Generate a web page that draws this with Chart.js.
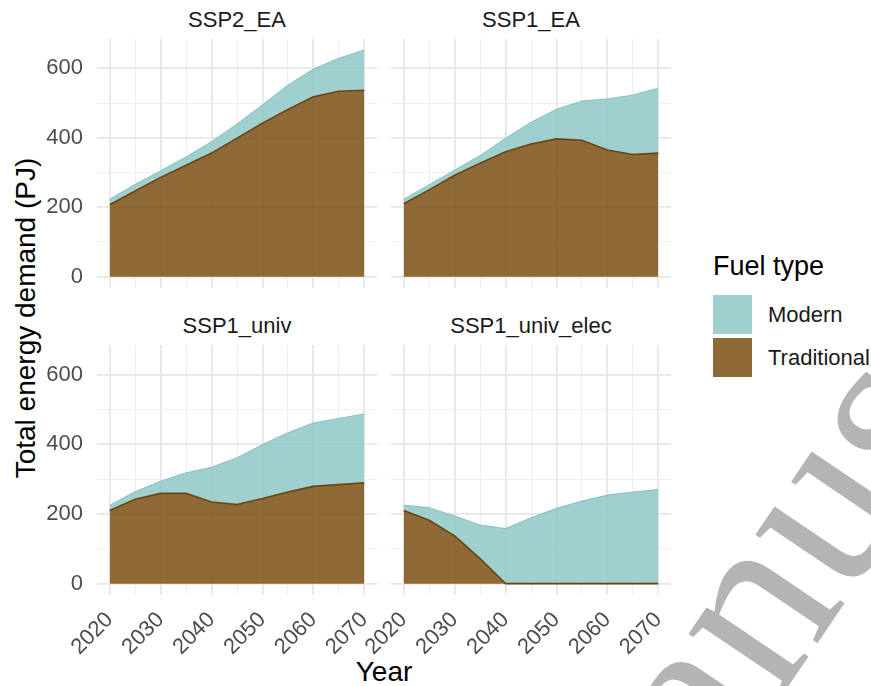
<!DOCTYPE html>
<html lang="en">
<head>
    <meta charset="UTF-8">
    <title>Total energy demand by fuel type</title>
    <script src="https://cdn.jsdelivr.net/npm/chart.js"></script>
    <style>
        body, html {
            margin: 0;
            padding: 0;
            width: 871px;
            height: 686px;
            overflow: hidden;
            background: #fff;
            font-family: "Liberation Sans", Arial, sans-serif;
        }
        .panel { position: absolute; }
        .txt { position: absolute; white-space: nowrap; line-height: 1; }
        .strip { font-size: 22px; color: #1a1a1a; transform: translateX(-50%); }
        .swatch { position: absolute; width: 39px; height: 39px; }
        #wm { position: absolute; left: 0; top: 0; pointer-events: none; }
    </style>
</head>
<body>
    <div class="txt strip" style="left:237px; top:9px;">SSP2_EA</div>
    <div class="txt strip" style="left:531px; top:9px;">SSP1_EA</div>
    <div class="txt strip" style="left:237px; top:315px;">SSP1_univ</div>
    <div class="txt strip" style="left:531px; top:315px;">SSP1_univ_elec</div>

    <div class="txt" style="left:26px; top:318px; font-size:28px; color:#000; transform:translate(-50%,-50%) rotate(-90deg);">Total energy demand (PJ)</div>
    <div class="txt" style="left:384px; top:658px; font-size:28px; color:#000; transform:translateX(-50%);">Year</div>

    <div class="txt" style="left:713px; top:253px; font-size:27px; color:#000;">Fuel type</div>
    <div class="swatch" style="left:713px; top:295px; background:rgb(159,207,207);"></div>
    <div class="swatch" style="left:713px; top:338px; background:rgb(144,106,54);"></div>
    <div class="txt" style="left:768px; top:304px; font-size:22px; color:#1a1a1a;">Modern</div>
    <div class="txt" style="left:768px; top:347px; font-size:22px; color:#1a1a1a;">Traditional</div>

    <canvas id="wm" width="871" height="686"></canvas>

    <script>
        const years = [2020, 2025, 2030, 2035, 2040, 2045, 2050, 2055, 2060, 2065, 2070];
        const xTicks = [2020, 2030, 2040, 2050, 2060, 2070];
        const yTicks = [0, 200, 400, 600];
        const yMinor = [100, 300, 500];

        // PJ
        const traditional_SSP2_EA = [207, 247, 286, 321, 356, 399, 442, 482, 518, 534, 537];
        const modern_SSP2_EA      = [16, 19, 19, 24, 33, 41, 53, 70, 80, 95, 116];

        const traditional_SSP1_EA = [210, 250, 292, 327, 360, 382, 397, 393, 365, 352, 356];
        const modern_SSP1_EA      = [13, 15, 15, 22, 39, 63, 85, 113, 147, 171, 187];

        const traditional_SSP1_univ = [210, 242, 259, 259, 234, 227, 244, 263, 279, 284, 289];
        const modern_SSP1_univ      = [15, 22, 35, 59, 100, 134, 155, 170, 182, 190, 198];

        const traditional_SSP1_univ_elec = [210, 182, 137, 72, 0, 0, 0, 0, 0, 0, 0];
        const modern_SSP1_univ_elec      = [15, 36, 57, 96, 158, 189, 216, 237, 254, 263, 270];

        Chart.defaults.font.family = '"Liberation Sans", Arial, sans-serif';

        const panels = [
            { trad: traditional_SSP2_EA, modern: modern_SSP2_EA, left: 97, top: 39, right: 377, bottom: 288, showY: true, showX: false },
            { trad: traditional_SSP1_EA, modern: modern_SSP1_EA, left: 391, top: 39, right: 671, bottom: 288, showY: false, showX: false },
            { trad: traditional_SSP1_univ, modern: modern_SSP1_univ, left: 97, top: 345, right: 377, bottom: 595, showY: true, showX: true },
            { trad: traditional_SSP1_univ_elec, modern: modern_SSP1_univ_elec, left: 391, top: 345, right: 671, bottom: 595, showY: false, showX: true }
        ];

        const padTop = 30, padRight = 30;

        function isMajor(ctx, list) {
            return ctx.tick && list.includes(ctx.tick.value);
        }

        panels.forEach(p => {
            const yw = p.showY ? 60 : 45;
            const xh = p.showX ? 75 : 30;
            const wrap = document.createElement('div');
            wrap.className = 'panel';
            wrap.style.left = (p.left - yw) + 'px';
            wrap.style.top = (p.top - padTop) + 'px';
            wrap.style.width = (p.right - p.left + yw + padRight) + 'px';
            wrap.style.height = (p.bottom - p.top + padTop + xh) + 'px';
            const cv = document.createElement('canvas');
            wrap.appendChild(cv);
            document.body.insertBefore(wrap, document.getElementById('wm'));

            new Chart(cv.getContext('2d'), {
                type: 'line',
                data: {
                    datasets: [{
                        label: 'Traditional',
                        data: years.map((y, k) => ({ x: y, y: p.trad[k] })),
                        backgroundColor: 'rgba(125, 80, 19, 0.85)',
                        borderColor: '#6a4412',
                        borderWidth: 1.6,
                        fill: 'origin',
                        pointRadius: 0,
                        tension: 0
                    }, {
                        label: 'Modern',
                        data: years.map((y, k) => ({ x: y, y: p.modern[k] })),
                        backgroundColor: 'rgba(142, 199, 199, 0.85)',
                        borderColor: 'rgba(128, 190, 190, 0.9)',
                        borderWidth: 1,
                        fill: '-1',
                        pointRadius: 0,
                        tension: 0
                    }]
                },
                options: {
                    responsive: true,
                    maintainAspectRatio: false,
                    animation: false,
                    layout: { padding: { top: padTop, right: padRight, left: 0, bottom: 0 } },
                    plugins: { legend: { display: false }, tooltip: { enabled: false } },
                    scales: {
                        x: {
                            type: 'linear',
                            min: 2017.5,
                            max: 2072.5,
                            border: { display: false },
                            grid: {
                                drawTicks: false,
                                color: c => (isMajor(c, xTicks) ? '#e6e6e6' : '#efefef'),
                                lineWidth: c => (isMajor(c, xTicks) ? 1.8 : 1)
                            },
                            afterBuildTicks: s => { s.ticks = years.map(v => ({ value: v })); },
                            ticks: {
                                display: p.showX,
                                autoSkip: false,
                                minRotation: 45,
                                maxRotation: 45,
                                padding: 12,
                                color: '#4d4d4d',
                                font: { size: 22 },
                                callback: v => (xTicks.includes(v) ? String(v) : '')
                            },
                            afterFit: s => { s.height = xh; }
                        },
                        y: {
                            stacked: true,
                            min: -32.6,
                            max: 684.6,
                            border: { display: false },
                            grid: {
                                drawTicks: false,
                                color: c => (isMajor(c, yTicks) ? '#e6e6e6' : '#efefef'),
                                lineWidth: c => (isMajor(c, yTicks) ? 1.8 : 1)
                            },
                            afterBuildTicks: s => {
                                s.ticks = yTicks.concat(yMinor).sort((a, b) => a - b).map(v => ({ value: v }));
                            },
                            ticks: {
                                display: p.showY,
                                padding: 14,
                                color: '#4d4d4d',
                                font: { size: 22 },
                                callback: v => (yTicks.includes(v) ? String(v) : '')
                            },
                            afterFit: s => { s.width = yw; }
                        }
                    }
                }
            });
        });

        // "Accepted Manuscript" watermark crossing the lower right corner
        const wctx = document.getElementById('wm').getContext('2d');
        const S = 244;
        wctx.font = S + 'px "Liberation Serif", serif';
        wctx.fillStyle = '#b4b4b4';
        const pre = wctx.measureText('Accepted Ma').width;
        const nW = wctx.measureText('n').width;
        wctx.translate(767, 620);
        wctx.rotate(-56 * Math.PI / 180);
        wctx.fillText('Accepted Manuscript', -pre - nW / 2, 0.224 * S);
    </script>
</body>
</html>
